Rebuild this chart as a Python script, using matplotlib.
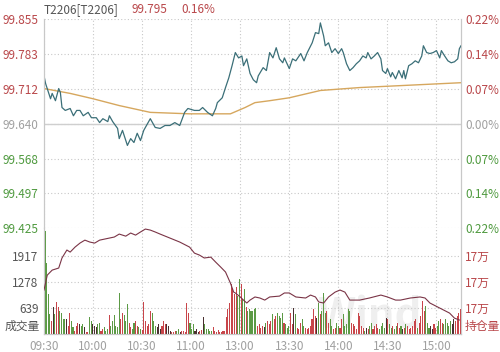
import numpy as np
import matplotlib
matplotlib.use('Agg')
import matplotlib.pyplot as plt

plt.rcParams['font.family'] = ['Noto Sans CJK SC', 'DejaVu Sans']

# ---- data ----
pre_close = 99.640

price_min = [0, 1, 4, 5, 7, 9, 10, 11, 13, 16, 18, 20, 22, 24, 27, 29, 32, 34, 36, 39, 40, 42, 45, 46, 48, 51,
             53, 55, 57, 59, 61, 63, 65, 68, 71, 74, 77, 80, 83, 86, 88, 92, 95, 97, 100, 103, 105, 106, 109,
             111, 113, 115, 117, 119, 121, 122, 124, 126, 128, 130, 131, 134, 136, 138, 140, 142, 144, 146,
             147, 150, 152, 154, 157, 159, 161, 164, 166, 168, 169, 171, 172, 174, 176, 178, 180, 182, 183,
             185, 187, 189, 191, 193, 195, 197, 198, 200, 202, 204, 206, 207, 209, 210, 212, 213, 215, 217,
             219, 220, 221, 223, 225, 227, 229, 231, 232, 234, 236, 238, 240, 242, 243, 245, 247, 249, 251,
             253, 254, 255]
price = [99.738, 99.722, 99.691, 99.702, 99.687, 99.712, 99.704, 99.673, 99.667, 99.671, 99.656, 99.667,
         99.667, 99.656, 99.663, 99.652, 99.652, 99.642, 99.650, 99.644, 99.656, 99.644, 99.630, 99.609,
         99.626, 99.595, 99.609, 99.601, 99.620, 99.605, 99.626, 99.638, 99.650, 99.632, 99.630, 99.636,
         99.636, 99.642, 99.636, 99.663, 99.671, 99.667, 99.667, 99.673, 99.663, 99.656, 99.671, 99.683,
         99.693, 99.714, 99.734, 99.759, 99.786, 99.775, 99.779, 99.759, 99.773, 99.743, 99.730, 99.724,
         99.738, 99.755, 99.749, 99.786, 99.775, 99.796, 99.773, 99.765, 99.775, 99.753, 99.773, 99.769,
         99.784, 99.769, 99.786, 99.806, 99.827, 99.825, 99.847, 99.820, 99.800, 99.806, 99.786, 99.794,
         99.784, 99.794, 99.786, 99.763, 99.749, 99.755, 99.763, 99.769, 99.779, 99.775, 99.786, 99.773,
         99.779, 99.786, 99.773, 99.749, 99.743, 99.753, 99.736, 99.745, 99.732, 99.749, 99.734, 99.749,
         99.732, 99.759, 99.763, 99.769, 99.765, 99.779, 99.800, 99.786, 99.784, 99.786, 99.790, 99.775,
         99.790, 99.779, 99.769, 99.765, 99.767, 99.773, 99.794, 99.800]

avg_min = [0, 16, 30, 46, 65, 89, 114, 123, 129, 138, 150, 169, 193, 218, 255]
avg_price = [99.712, 99.702, 99.691, 99.677, 99.663, 99.660, 99.660, 99.673, 99.683, 99.687, 99.693,
             99.708, 99.714, 99.718, 99.724]

oi_min = [0, 2, 5, 9, 11, 14, 16, 19, 22, 25, 28, 31, 34, 40, 43, 46, 50, 53, 56, 59, 62, 65, 68, 71, 77,
          83, 89, 92, 95, 98, 102, 105, 108, 111, 114, 116, 117, 120, 122, 124, 126, 129, 132, 135, 138,
          144, 147, 150, 154, 160, 163, 166, 168, 171, 174, 178, 181, 184, 187, 193, 199, 206, 210, 215,
          218, 224, 230, 233, 236, 242, 248, 251, 254]
oi = [170040, 170900, 171190, 171310, 171890, 172350, 172230, 172520, 172750, 172920, 172810, 172750,
      172920, 173040, 173100, 173270, 173150, 173330, 173210, 173390, 173560, 173500, 173390, 173270,
      173040, 172810, 172520, 172170, 172060, 171890, 171940, 171650, 171370, 171080, 170440, 169920,
      169870, 169640, 169460, 169290, 169460, 169640, 169580, 169460, 169640, 169690, 169870, 169870,
      169640, 169580, 169750, 169640, 169350, 169290, 169640, 169920, 170040, 169920, 169460, 169460,
      169580, 169750, 169640, 169460, 169460, 169580, 169640, 169580, 169290, 169000, 168710, 168420,
      168310]

volume = [2534, 1747, 984, 492, 320, 664, 492, 787, 664, 566, 517, 369, 369, 369, 197, 517, 320, 172, 74,
          197, 271, 246, 197, 246, 172, 49, 49, 418, 320, 246, 197, 172, 246, 271, 74, 123, 172, 74, 123,
          467, 197, 320, 467, 197, 172, 1009, 369, 517, 467, 320, 738, 271, 172, 123, 271, 320, 197, 172,
          123, 98, 787, 320, 197, 246, 566, 517, 320, 197, 172, 246, 123, 197, 320, 246, 246, 197, 74, 49,
          49, 74, 74, 123, 49, 74, 74, 49, 763, 517, 271, 123, 246, 74, 123, 49, 74, 98, 418, 246, 123, 123,
          74, 74, 172, 74, 49, 98, 49, 49, 74, 74, 418, 615, 763, 1230, 1107, 984, 1156, 935, 1353, 1230,
          861, 1107, 664, 566, 615, 566,
          566, 615, 640, 197, 246, 148, 197, 172, 271, 320, 246, 320, 492, 369, 443, 517, 443, 394, 517,
          271, 246, 148, 197, 517, 246, 640, 492, 148, 123, 271, 369, 197, 148, 123, 148, 197, 369, 615,
          443, 394, 763, 492, 566, 1009, 517, 566, 271, 369, 197, 123, 148, 271, 197, 148, 369, 492, 197,
          246, 615, 566, 271, 246, 197, 123, 517, 443, 197, 148, 74, 148, 123, 197, 271, 123, 197, 246, 148,
          123, 197, 271, 148, 394, 369, 246, 148, 197, 123, 197, 271, 148, 197, 123, 148, 246, 197, 123,
          148, 197, 320, 369, 148, 271, 443, 812, 566, 689, 271, 148, 197, 123, 246, 148, 197, 320, 369,
          271, 246, 369, 271, 197, 320, 246, 369, 320, 443, 517, 615]

price_ticks = [99.425, 99.497, 99.568, 99.640, 99.712, 99.783, 99.855]
pct_labels = ['0.22%', '0.14%', '0.07%', '0.00%', '0.07%', '0.14%', '0.22%']
time_ticks = [0, 30, 60, 90, 120, 150, 180, 210, 240]
time_labels = ['09:30', '10:00', '10:30', '11:00', '13:00', '13:30', '14:00', '14:30', '15:00']
vol_ticks = [639, 1278, 1917]
oi_ticks = [169000, 170500, 172000]

RED = '#b9474a'
GREEN = '#4f9a3f'
GRAY = '#a0a0a0'
GRID = '#c8c8c8'

fig = plt.figure(figsize=(5.0, 3.52), dpi=100)
ax = fig.add_axes([0.088, 0.352, 0.834, 0.594])
axv = fig.add_axes([0.088, 0.051, 0.834, 0.301])

# ---- price panel ----
ax.plot(avg_min, avg_price, color='#d6a75e', lw=1.0, zorder=3)
ax.plot(price_min, price, color='#3b6f78', lw=0.9, zorder=4)
ax.set_xlim(0, 255)
ax.set_ylim(99.425, 99.855)
ax.set_yticks(price_ticks)
ax.set_yticklabels([f'{t:.3f}' for t in price_ticks])
ax.set_xticks(time_ticks)
ax.tick_params(axis='x', length=0, labelbottom=False)
ax.tick_params(axis='y', length=0, pad=4, labelsize=8.5)
for lbl, t in zip(ax.get_yticklabels(), price_ticks):
    lbl.set_color(RED if t > pre_close + 1e-6 else (GREEN if t < pre_close - 1e-6 else GRAY))
ax.grid(True, color=GRID, lw=0.8, linestyle=(0, (1, 2)))
ax.axhline(pre_close, color='#cfcfcf', lw=1.0, zorder=2)

axr = ax.twinx()
axr.set_ylim(ax.get_ylim())
axr.set_yticks(price_ticks)
axr.set_yticklabels(pct_labels)
axr.tick_params(axis='y', length=0, pad=3, labelsize=8.5)
for lbl, t in zip(axr.get_yticklabels(), price_ticks):
    lbl.set_color(RED if t > pre_close + 1e-6 else (GREEN if t < pre_close - 1e-6 else GRAY))

for a in (ax, axr):
    a.spines['top'].set_visible(False)
    a.spines['bottom'].set_visible(False)
    a.spines['left'].set_color(GRID)
    a.spines['right'].set_color(GRID)

fig.text(0.088, 0.974, 'T2206[T2206]', color='#555555', fontsize=8.5, va='center', ha='left')
fig.text(0.262, 0.974, '99.795', color=RED, fontsize=8.5, va='center', ha='left')
fig.text(0.362, 0.974, '0.16%', color=RED, fontsize=8.5, va='center', ha='left')

# ---- volume / open interest panel ----
bar_x = 0.6 + np.arange(len(volume)) * 254 / (len(volume) - 1)
p_now = np.interp(bar_x, price_min, price)
p_prev = np.interp(bar_x - 1, price_min, price)
colors = []
for d in p_now - p_prev:
    if abs(d) < 0.001:
        colors.append('#4a3030')
    elif d > 0:
        colors.append('#c8454a')
    else:
        colors.append('#5c9a45')

axv.text(0.78, 0.17, 'Wind', transform=axv.transAxes, fontsize=30, fontweight='bold',
         style='italic', color='#efefef', ha='center', va='center', zorder=0)
axv.bar(bar_x, volume, width=0.65, color=colors, zorder=3)
axv.set_xlim(0, 255)
axv.set_ylim(0, 2608)
axv.set_yticks(vol_ticks)
axv.set_yticklabels([str(v) for v in vol_ticks])
axv.set_xticks(time_ticks)
axv.set_xticklabels(time_labels)
axv.tick_params(axis='x', length=0, pad=4, labelsize=8.5, colors=GRAY)
axv.tick_params(axis='y', length=0, pad=4, labelsize=8.5, colors='#555555')
axv.grid(True, color=GRID, lw=0.8, linestyle=(0, (1, 2)))
axv.text(-0.01, 0.075, '成交量', transform=axv.transAxes, ha='right', va='center',
         fontsize=8.5, color='#555555')

axo = axv.twinx()
axo.plot(oi_min, oi, color='#7a3446', lw=0.8, zorder=4)
axo.set_ylim(167500, 173615)
axo.set_yticks(oi_ticks)
axo.set_yticklabels(['17万'] * len(oi_ticks))
axo.tick_params(axis='y', length=0, pad=3, labelsize=8.5, colors=RED)
axo.text(1.008, 0.075, '持仓量', transform=axv.transAxes, ha='left', va='center',
         fontsize=8.5, color=RED)

for a in (axv, axo):
    a.spines['top'].set_visible(False)
    a.spines['left'].set_color(GRID)
    a.spines['right'].set_color(GRID)
    a.spines['bottom'].set_color(GRID)

fig.savefig('out.png', dpi=100)
